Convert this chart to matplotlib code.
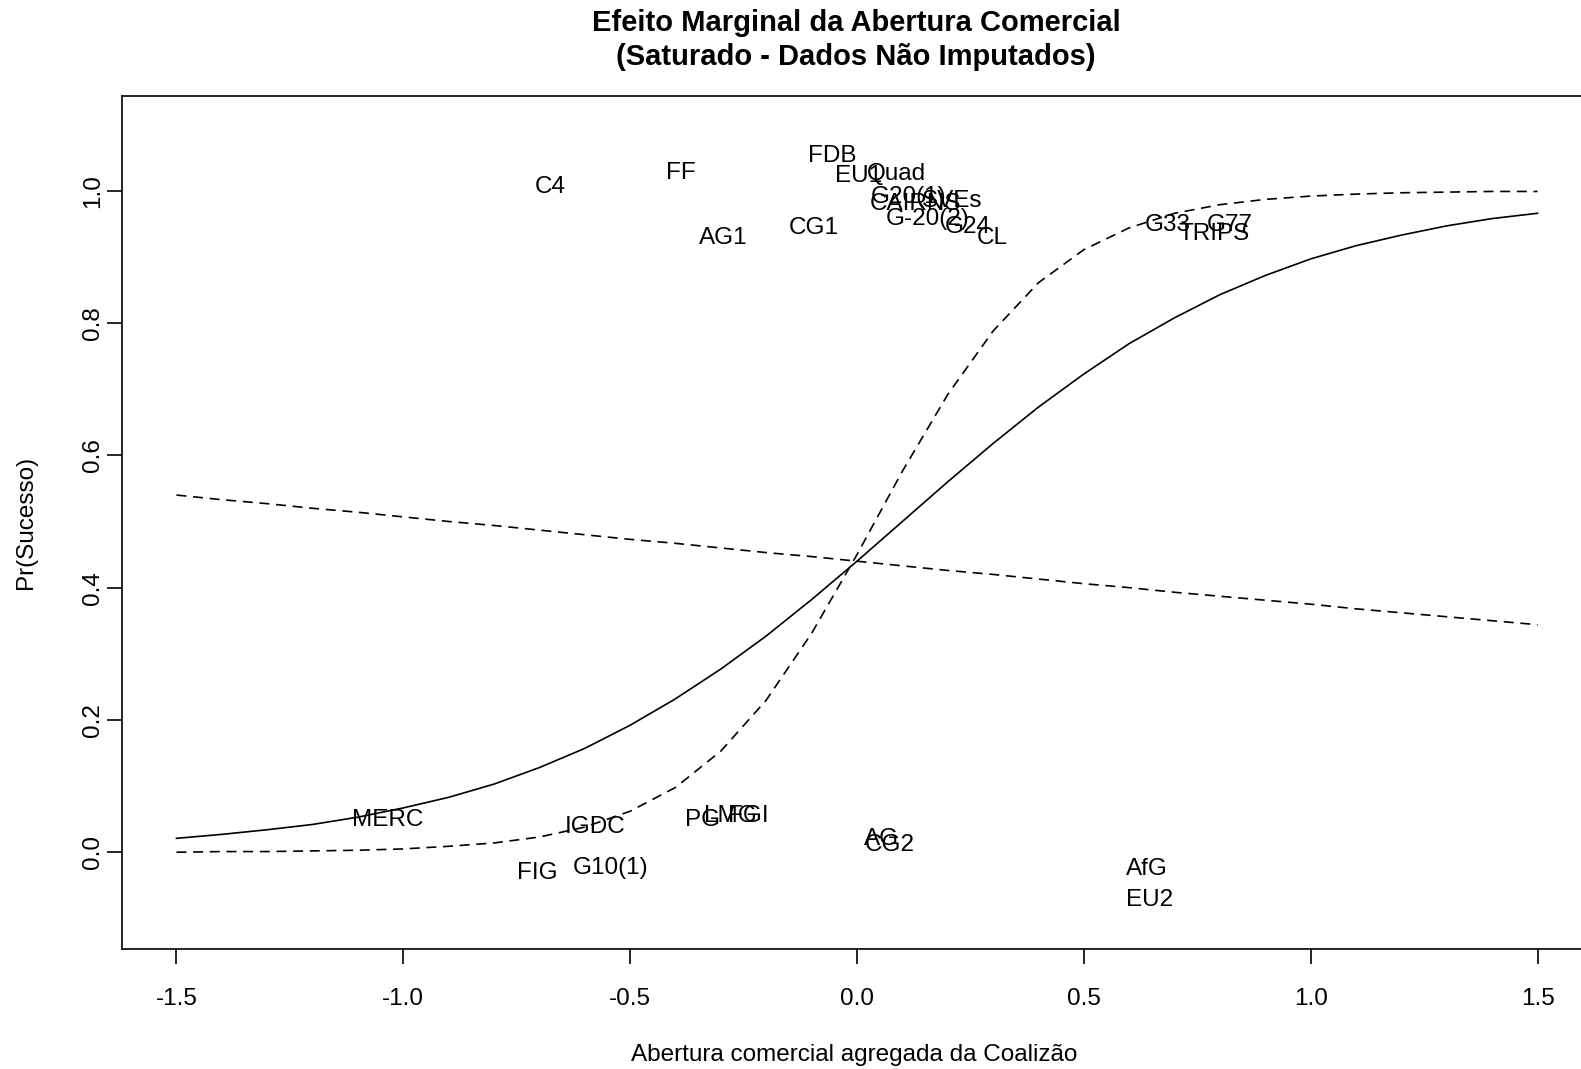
import numpy as np
import matplotlib
matplotlib.use("Agg")
import matplotlib.pyplot as plt

plt.rcParams['font.family'] = ['Liberation Sans', 'DejaVu Sans']

# grid of values for the coalition openness
x_grid = np.round(np.arange(-1.5, 1.51, 0.1), 2)

# predicted probability (solid) and the two dashed bands
p_mid = [0.021, 0.027, 0.034, 0.042, 0.053, 0.067, 0.083, 0.103, 0.128, 0.157,
         0.192, 0.232, 0.277, 0.327, 0.382, 0.440, 0.500, 0.560, 0.618, 0.673,
         0.723, 0.769, 0.808, 0.843, 0.872, 0.897, 0.917, 0.933, 0.947, 0.958, 0.966]
p_steep = [0.000, 0.001, 0.001, 0.002, 0.003, 0.005, 0.009, 0.014, 0.023, 0.038,
           0.062, 0.098, 0.153, 0.230, 0.331, 0.450, 0.576, 0.692, 0.788, 0.861,
           0.911, 0.944, 0.966, 0.979, 0.987, 0.992, 0.995, 0.997, 0.998, 0.999, 0.999]
p_flat = [0.540, 0.533, 0.527, 0.520, 0.514, 0.507, 0.500, 0.494, 0.487, 0.480,
          0.473, 0.467, 0.460, 0.453, 0.447, 0.440, 0.433, 0.426, 0.420, 0.413,
          0.406, 0.400, 0.393, 0.387, 0.381, 0.375, 0.368, 0.362, 0.356, 0.350, 0.344]

# coalition labels (jittered outcome positions)
labels = ["C4", "FF", "FDB", "EU1", "Quad", "G20(1)", "CAIRNS", "SVEs", "G-20(2)",
          "G24", "CL", "CG1", "AG1", "G33", "TRIPS", "G77",
          "MERC", "IGDC", "FIG", "G10(1)", "PG", "LMG", "FGI", "AG", "CG2", "AfG", "EU2"]
label_x = [-0.676, -0.389, -0.054, 0.004, 0.087, 0.113, 0.13, 0.21, 0.155,
           0.245, 0.297, -0.095, -0.295, 0.685, 0.787, 0.822,
           -1.035, -0.577, -0.704, -0.544, -0.34, -0.28, -0.24, 0.055, 0.073, 0.640, 0.645]
label_y = [1.005, 1.027, 1.052, 1.023, 1.025, 0.991, 0.980, 0.985, 0.957,
           0.945, 0.928, 0.944, 0.928, 0.948, 0.934, 0.948,
           0.049, 0.038, -0.032, -0.024, 0.048, 0.055, 0.055, 0.020, 0.011, -0.026, -0.072]

W, H = 1581, 1069
fig = plt.figure(figsize=(W / 100, H / 100), dpi=100)
ax = fig.add_axes([122 / W, 1 - 949 / H, (1592 - 122) / W, (949 - 96) / H])

ax.plot(x_grid, p_mid, color="black", lw=1.2)
ax.plot(x_grid, p_steep, color="black", lw=1.2, ls=(0, (6, 4)))
ax.plot(x_grid, p_flat, color="black", lw=1.2, ls=(0, (6, 4)))

for name, lx, ly in zip(labels, label_x, label_y):
    ax.text(lx, ly, name, ha="center", va="center", fontsize=17.5)

ax.set_xlim(-1.62, 1.62)
ax.set_ylim(-0.1463, 1.1433)
ax.set_xticks([-1.5, -1.0, -0.5, 0.0, 0.5, 1.0, 1.5])
ax.set_xticklabels(["-1.5", "-1.0", "-0.5", "0.0", "0.5", "1.0", "1.5"])
ax.set_yticks([0.0, 0.2, 0.4, 0.6, 0.8, 1.0])
ax.set_yticklabels(["0.0", "0.2", "0.4", "0.6", "0.8", "1.0"], rotation=90, va="center")
ax.tick_params(length=11, width=1.2, labelsize=17.5)
ax.tick_params(axis="x", pad=17)
ax.tick_params(axis="y", pad=2)
for s in ax.spines.values():
    s.set_linewidth(1.2)

# titles and axis names placed in figure pixels, as in the R output
fig.text(856 / W, 1 - 23 / H, "Efeito Marginal da Abertura Comercial",
         ha="center", va="center", fontsize=21, fontweight="bold")
fig.text(856 / W, 1 - 57 / H, "(Saturado - Dados Não Imputados)",
         ha="center", va="center", fontsize=21, fontweight="bold")
fig.text(854 / W, 1 - 1055 / H, "Abertura comercial agregada da Coalizão",
         ha="center", va="center", fontsize=17.5)
fig.text(26 / W, 1 - 522 / H, "Pr(Sucesso)", rotation=90,
         ha="center", va="center", fontsize=17.5)

fig.savefig("out.png", dpi=100)
